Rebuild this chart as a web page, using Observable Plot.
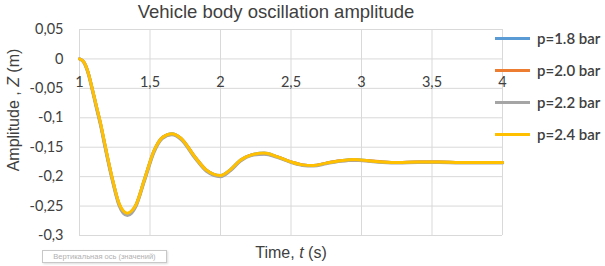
<!DOCTYPE html>
<html>
<head>
<meta charset="utf-8">
<script src="https://cdn.jsdelivr.net/npm/d3@7"></script>
<script src="https://cdn.jsdelivr.net/npm/@observablehq/plot@0.6"></script>
<style>
  html, body { margin: 0; padding: 0; background: #fff; }
  #wrap { position: relative; width: 605px; height: 266px; overflow: hidden; font-family: "Liberation Sans", Arial, sans-serif; }
  #chart { position: absolute; left: 0; top: 0; }
  .title { position: absolute; left: 276px; top: 12px; transform: translate(-50%, -50%); white-space: nowrap; font-size: 18.5px; color: #404040; }
  .ylab { position: absolute; left: 14px; top: 110px; transform: translate(-50%, -50%) rotate(-90deg); white-space: nowrap; font-size: 16px; color: #404040; }
  .xlab { position: absolute; left: 291px; top: 253px; transform: translate(-50%, -50%); white-space: nowrap; font-size: 16px; color: #404040; }
  .legend { position: absolute; left: 495px; top: 0; font-family: Lato, "Noto Sans", sans-serif; font-size: 15px; font-weight: 600; color: #404040; }
  .legend .item { position: absolute; left: 0; white-space: nowrap; display: flex; align-items: center; transform: translateY(-50%); }
  .legend .sw { width: 35px; height: 3px; margin-right: 7px; }
  .tip { position: absolute; left: 42px; top: 250px; width: 123px; height: 11px; border: 1px solid #c8c8c8; box-shadow: 1px 1px 2px #ddd; font-size: 7.5px; line-height: 11px; color: #b0b0b0; text-align: center; white-space: nowrap; background: #fff; }
</style>
</head>
<body>
<div id="wrap"></div>
<script>
const time = [1.00,1.03,1.06,1.09,1.12,1.15,1.18,1.23,1.28,1.31,1.34,1.37,1.40,1.46,1.53,1.59,1.655,1.72,1.82,1.90,2.00,2.07,2.14,2.22,2.31,2.40,2.50,2.58,2.66,2.75,2.85,2.95,3.05,3.15,3.26,3.40,3.55,3.70,3.85,4.00];

const p18 = [0,-0.005,-0.022,-0.050,-0.081,-0.111,-0.146,-0.201,-0.246,-0.259,-0.263,-0.259,-0.248,-0.205,-0.155,-0.133,-0.127,-0.135,-0.167,-0.189,-0.198,-0.188,-0.172,-0.163,-0.160,-0.166,-0.175,-0.180,-0.181,-0.177,-0.173,-0.171,-0.173,-0.175,-0.176,-0.175,-0.175,-0.176,-0.176,-0.176];
const p20 = [0,-0.005,-0.022,-0.051,-0.081,-0.111,-0.146,-0.201,-0.246,-0.259,-0.263,-0.259,-0.249,-0.206,-0.156,-0.133,-0.128,-0.135,-0.167,-0.189,-0.199,-0.189,-0.173,-0.163,-0.161,-0.166,-0.175,-0.180,-0.181,-0.177,-0.173,-0.172,-0.173,-0.175,-0.176,-0.175,-0.175,-0.176,-0.176,-0.176];
const p22 = [0,-0.006,-0.024,-0.053,-0.084,-0.114,-0.149,-0.204,-0.249,-0.262,-0.266,-0.262,-0.251,-0.208,-0.158,-0.135,-0.129,-0.137,-0.169,-0.191,-0.200,-0.190,-0.174,-0.164,-0.162,-0.167,-0.176,-0.181,-0.182,-0.178,-0.174,-0.172,-0.174,-0.176,-0.177,-0.176,-0.176,-0.177,-0.177,-0.177];
const p24 = [0,-0.005,-0.022,-0.050,-0.080,-0.110,-0.145,-0.200,-0.245,-0.258,-0.262,-0.258,-0.248,-0.205,-0.155,-0.133,-0.127,-0.135,-0.167,-0.189,-0.198,-0.188,-0.172,-0.163,-0.160,-0.166,-0.175,-0.180,-0.181,-0.177,-0.173,-0.171,-0.173,-0.175,-0.176,-0.175,-0.175,-0.176,-0.176,-0.176];

const seriesNames = ["p=1.8 bar", "p=2.0 bar", "p=2.2 bar", "p=2.4 bar"];
const seriesColors = ["#5B9BD5", "#ED7D31", "#A5A5A5", "#FFC000"];
const seriesValues = [p18, p20, p22, p24];

const xTicks = [1, 1.5, 2, 2.5, 3, 3.5, 4];
const xTickLabels = ["1", "1,5", "2", "2,5", "3", "3,5", "4"];
const yTicks = [0.05, 0, -0.05, -0.1, -0.15, -0.2, -0.25, -0.3];
const yTickLabels = ["0,05", "0", "-0,05", "-0,1", "-0,15", "-0,2", "-0,25", "-0,3"];

const titleText = "Vehicle body oscillation amplitude";
const tipText = "Вертикальная ось (значений)";

const data = seriesNames.flatMap((name, i) =>
  time.map((t, j) => ({series: name, t, z: seriesValues[i][j]})));

const chart = Plot.plot({
  width: 605,
  height: 266,
  marginLeft: 79,
  marginRight: 103,
  marginTop: 29,
  marginBottom: 31,
  style: {fontFamily: "Lato, 'Noto Sans', sans-serif", fontSize: "14.5px", color: "#404040", background: "transparent"},
  x: {domain: [1, 4], axis: null},
  y: {domain: [-0.3, 0.05], axis: null},
  marks: [
    Plot.ruleX(xTicks, {stroke: "#d9d9d9", strokeWidth: 1}),
    Plot.ruleY(yTicks, {stroke: "#d9d9d9", strokeWidth: 1}),
    Plot.axisY({ticks: yTicks, tickFormat: d => yTickLabels[yTicks.indexOf(d)], tickSize: 0, tickPadding: 16, label: null, fill: "#404040"}),
    Plot.text(xTicks, {x: d => d, y: 0, dy: 23, text: (d, i) => xTickLabels[i], fill: "#404040"}),
    ...seriesNames.map((name, i) =>
      Plot.line(data.filter(d => d.series === name), {x: "t", y: "z", stroke: seriesColors[i], strokeWidth: 3, curve: "monotone-x"}))
  ]
});
chart.id = "chart";

const wrap = document.getElementById("wrap");
wrap.appendChild(chart);

const title = document.createElement("div");
title.className = "title";
title.textContent = titleText;
wrap.appendChild(title);

const ylab = document.createElement("div");
ylab.className = "ylab";
ylab.innerHTML = "Amplitude , <i>Z</i> (m)";
wrap.appendChild(ylab);

const xlab = document.createElement("div");
xlab.className = "xlab";
xlab.innerHTML = "Time, <i>t</i> (s)";
wrap.appendChild(xlab);

const legend = document.createElement("div");
legend.className = "legend";
const legendY = [38, 70, 102, 134];
seriesNames.forEach((name, i) => {
  const it = document.createElement("div");
  it.className = "item";
  it.style.top = legendY[i] + "px";
  const sw = document.createElement("span");
  sw.className = "sw";
  sw.style.background = seriesColors[i];
  const tx = document.createElement("span");
  tx.textContent = name;
  it.appendChild(sw);
  it.appendChild(tx);
  legend.appendChild(it);
});
wrap.appendChild(legend);

const tip = document.createElement("div");
tip.className = "tip";
tip.textContent = tipText;
wrap.appendChild(tip);
</script>
</body>
</html>
